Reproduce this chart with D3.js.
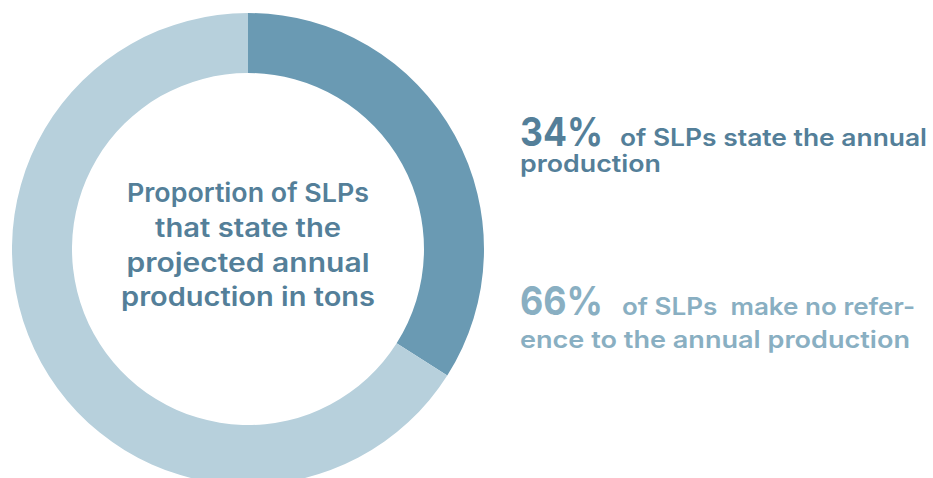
<!DOCTYPE html>
<html>
<head>
<meta charset="utf-8">
<script src="https://cdn.jsdelivr.net/npm/d3@7"></script>
<style>
  body { margin: 0; background: #fff; }
  svg { display: block; font-family: "Inter", "Lato", sans-serif; font-weight: 600; }
</style>
</head>
<body>
<div id="chart"></div>
<script>
// Data
const categories = ['state the annual production', 'no reference to the annual production'];
const values = [34, 66];
const sliceColors = ['#6a9ab3', '#b7d0dc'];
const centerLines = ['Proportion of SLPs', 'that state the', 'projected annual', 'production in tons'];
const noteBig = ['34%', '66%'];
const noteLines = [
  ['of SLPs state the annual', 'production'],
  ['of SLPs  make no refer-', 'ence to the annual production']
];
const noteColors = ['#547f99', '#89afc2'];

const width = 933, height = 478;
const cx = 248, cy = 249;
const outerR = 236, innerR = 176;

const svg = d3.select('#chart').append('svg')
  .attr('width', width)
  .attr('height', height);

// Donut
const pie = d3.pie().sort(null).value(d => d);
const arc = d3.arc().innerRadius(innerR).outerRadius(outerR);

const g = svg.append('g').attr('transform', `translate(${cx},${cy})`);
g.selectAll('path')
  .data(pie(values))
  .enter()
  .append('path')
  .attr('d', arc)
  .attr('fill', (d, i) => sliceColors[i]);

// Center label
const lineY = [202, 237, 272, 306];
const lineW = [242, 186, 243, 254];
centerLines.forEach((t, i) => {
  g.append('text')
    .attr('x', 0)
    .attr('y', lineY[i] - cy)
    .attr('text-anchor', 'middle')
    .attr('fill', '#547f99')
    .attr('font-size', '26px')
    .attr('textLength', lineW[i])
    .attr('lengthAdjust', 'spacingAndGlyphs')
    .text(t);
});

// Right-side notes
const notes = [
  { y: 146, y2: 172, bigW: 83, x1: 620, w1: 307, w2: 141 },
  { y: 315, y2: 348, bigW: 83, x1: 622, w1: 293, w2: 390 }
];

notes.forEach((n, i) => {
  svg.append('text')
    .attr('x', 520)
    .attr('y', n.y)
    .attr('fill', noteColors[i])
    .attr('font-size', '40px')
    .attr('font-weight', 700)
    .attr('textLength', n.bigW)
    .attr('lengthAdjust', 'spacingAndGlyphs')
    .text(noteBig[i]);

  svg.append('text')
    .attr('x', n.x1)
    .attr('y', n.y)
    .attr('fill', noteColors[i])
    .attr('font-size', '24px')
    .attr('textLength', n.w1)
    .attr('lengthAdjust', 'spacingAndGlyphs')
    .style('white-space', 'pre')
    .text(noteLines[i][0]);

  svg.append('text')
    .attr('x', 520)
    .attr('y', n.y2)
    .attr('fill', noteColors[i])
    .attr('font-size', '24px')
    .attr('textLength', n.w2)
    .attr('lengthAdjust', 'spacingAndGlyphs')
    .text(noteLines[i][1]);
});
</script>
</body>
</html>
